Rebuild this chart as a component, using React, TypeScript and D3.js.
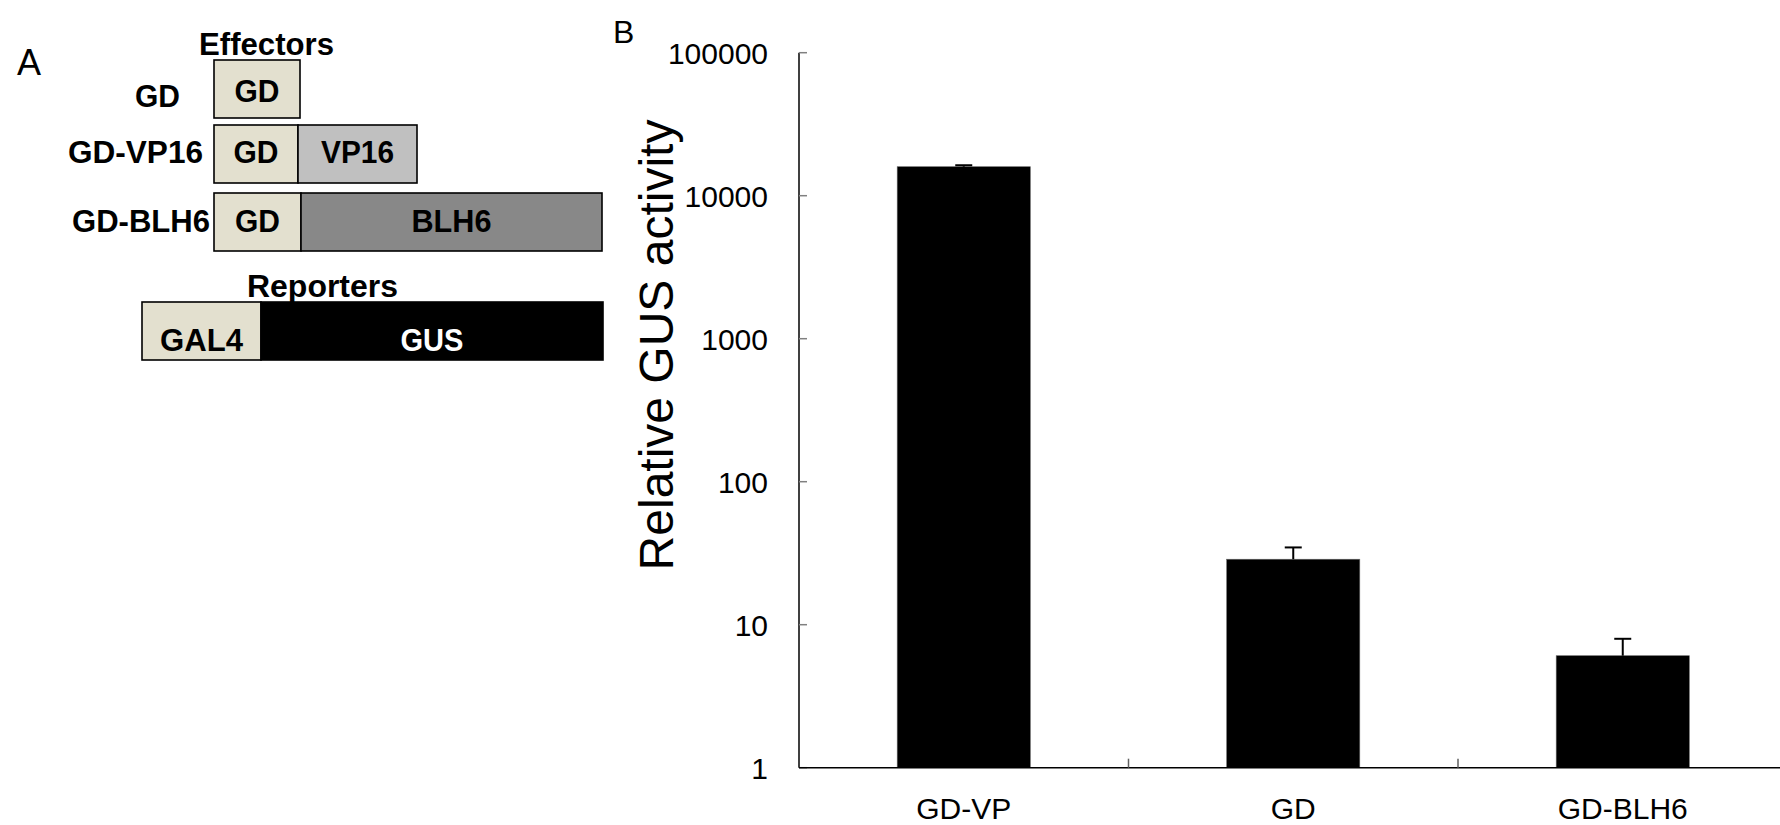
import React from "react";
import * as d3 from "d3";

// Panel B data
const categories = ["GD-VP", "GD", "GD-BLH6"];
const activity = [15950, 28.7, 6.07];
const errorUp = [380, 6.0, 1.9];
const yTickValues = [1, 10, 100, 1000, 10000, 100000];

// Panel A schematic: segment names and relative lengths (arbitrary units)
const effectorNames = ["GD", "GD-VP16", "GD-BLH6"];
const effectorSegments = [
  [{ name: "GD", len: 86, fill: "#e3e0cf", color: "#000" }],
  [
    { name: "GD", len: 84, fill: "#e3e0cf", color: "#000" },
    { name: "VP16", len: 119, fill: "#c0c0c0", color: "#000" },
  ],
  [
    { name: "GD", len: 87, fill: "#e3e0cf", color: "#000" },
    { name: "BLH6", len: 301, fill: "#888888", color: "#000" },
  ],
];
const reporterSegments = [
  { name: "GAL4", len: 119, fill: "#e3e0cf", color: "#000" },
  { name: "GUS", len: 342, fill: "#000000", color: "#fff" },
];

const W = 1780;
const H = 825;
const font = "'Liberation Sans', Arial, Helvetica, sans-serif";

// widths the bold labels take in the picture (the font there is a bit narrow)
const boldWidth = {
  Effectors: 135,
  GD: 45,
  "GD-VP16": 135,
  "GD-BLH6": 138,
  VP16: 73,
  BLH6: 80,
  Reporters: 151,
  GAL4: 83,
  GUS: 63,
};

const Bold = ({ x, y, anchor = "start", fill = "#000", children }) => (
  <text
    x={x}
    y={y}
    textAnchor={anchor}
    fontWeight="bold"
    fontSize={32}
    fill={fill}
    textLength={boldWidth[children]}
    lengthAdjust="spacingAndGlyphs"
  >
    {children}
  </text>
);

const App = () => {
  // Scales for panel B
  const yScale = d3.scaleLog().domain([1, 100000]).range([767.7, 52.7]);
  const xScale = d3
    .scaleBand()
    .domain(categories)
    .range([799, 1787.5])
    .paddingInner(0.596)
    .paddingOuter(0.298);
  const step = xScale.step();
  const axisX = 799;
  const axisY = yScale(1);

  // Schematic scale: units -> px
  const sx = d3.scaleLinear().domain([0, 388]).range([214, 602]);
  const rowTop = [60, 125, 193];
  const rowH = 58;
  const labelX = [135, 68, 72];
  const labelBase = [107, 163, 232];

  const segs = (list, x0Unit, top, base) => {
    let acc = x0Unit;
    return list.map((s, i) => {
      const x0 = sx(acc);
      const x1 = sx(acc + s.len);
      acc += s.len;
      return (
        <g key={i}>
          <rect x={x0} y={top} width={x1 - x0} height={rowH} fill={s.fill} stroke="#000" strokeWidth={1.6} />
          <Bold x={(x0 + x1) / 2} y={base} anchor="middle" fill={s.color}>{s.name}</Bold>
        </g>
      );
    });
  };

  return (
    <div style={{ position: "absolute", left: 0, top: 0 }}>
      <svg width={W} height={H} style={{ display: "block", background: "#fff" }} fontFamily={font}>
        {/* Panel A */}
        <text x={17} y={75} fontSize={36}>A</text>
        <Bold x={266.5} y={55} anchor="middle">Effectors</Bold>
        {effectorNames.map((n, i) => (
          <g key={n}>
            <Bold x={labelX[i]} y={labelBase[i]}>{n}</Bold>
            {segs(effectorSegments[i], 0, rowTop[i], labelBase[i] - (i === 0 ? 5 : 0))}
          </g>
        ))}
        <Bold x={322.5} y={297} anchor="middle">Reporters</Bold>
        {segs(reporterSegments, -72, 302, 351)}

        {/* Panel B */}
        <text x={613} y={43} fontSize={32}>B</text>
        <text transform={`translate(673, 345) rotate(-90)`} textAnchor="middle" fontSize={48}>
          Relative GUS activity
        </text>

        {/* bars */}
        {categories.map((c, i) => {
          const x = xScale(c);
          const bw = xScale.bandwidth();
          const cx = x + bw / 2;
          const top = yScale(activity[i]);
          const errTop = yScale(activity[i] + errorUp[i]);
          return (
            <g key={c}>
              <rect x={x} y={top} width={bw} height={axisY - top} fill="#000" stroke="#666" strokeWidth={0.6} />
              <line x1={cx} x2={cx} y1={top} y2={errTop} stroke="#000" strokeWidth={2} />
              <line x1={cx - 8.5} x2={cx + 8.5} y1={errTop} y2={errTop} stroke="#000" strokeWidth={2} />
            </g>
          );
        })}

        {/* y axis */}
        <line x1={axisX} x2={axisX} y1={yScale(100000)} y2={axisY} stroke="#000" strokeWidth={1.5} />
        {yTickValues.map((v) => (
          <g key={v}>
            <line x1={axisX} x2={axisX + 8} y1={yScale(v)} y2={yScale(v)} stroke="#808080" strokeWidth={1.5} />
            <text x={768} y={yScale(v) + 11} textAnchor="end" fontSize={30}>{v}</text>
          </g>
        ))}

        {/* x axis */}
        <line x1={axisX} x2={W} y1={axisY} y2={axisY} stroke="#000" strokeWidth={1.5} />
        {categories.slice(1).map((c) => {
          const bx = xScale(c) - (step * xScale.paddingInner()) / 2;
          return <line key={c} x1={bx} x2={bx} y1={axisY} y2={axisY - 9} stroke="#606060" strokeWidth={1.5} />;
        })}
        {categories.map((c) => (
          <text key={c} x={xScale(c) + xScale.bandwidth() / 2} y={819} textAnchor="middle" fontSize={30}>
            {c}
          </text>
        ))}
      </svg>
    </div>
  );
};

export default App;
